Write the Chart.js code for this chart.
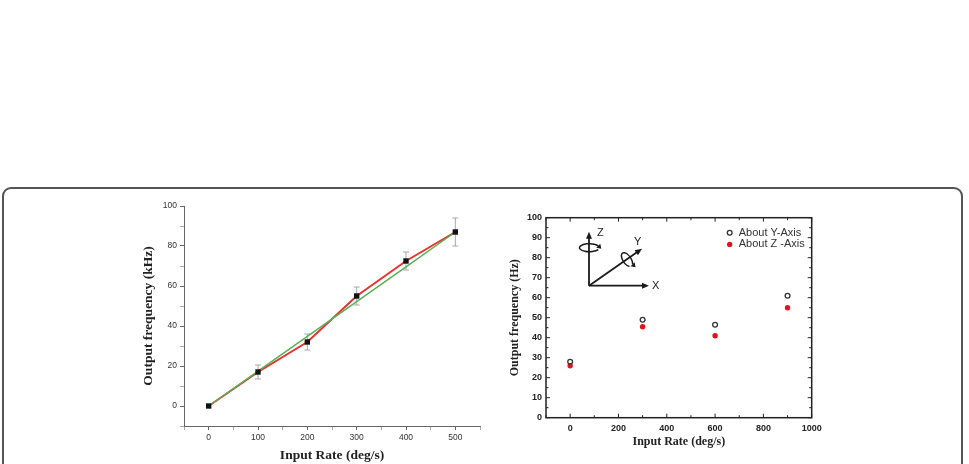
<!DOCTYPE html>
<html>
<head>
<meta charset="utf-8">
<script src="https://cdn.jsdelivr.net/npm/chart.js@4.4.1/dist/chart.umd.min.js"></script>
<style>
  html, body { margin: 0; padding: 0; background: #fff; width: 969px; height: 464px; overflow: hidden; }
  .frame { position: absolute; left: 2px; top: 187px; width: 961px; height: 300px; border: 2px solid #555; border-radius: 9px; box-sizing: border-box; }
  #leftChart { position: absolute; left: 130px; top: 195px; }
  #rightChart { position: absolute; left: 500px; top: 205px; }
</style>
</head>
<body>
<div class="frame"></div>
<canvas id="leftChart" width="370" height="269"></canvas>
<canvas id="rightChart" width="330" height="259"></canvas>
<script>
// left panel: rate vs output frequency (kHz)
const rateLeft = [0, 100, 200, 300, 400, 500];
const freqLeft = [0, 17, 32, 55, 72.5, 87];
const errLeft = [0, 3.5, 4, 4.5, 4.5, 7];
const fitLeft = [0, 17.4, 34.8, 52.2, 69.6, 87];
const leftXTicks = [0, 100, 200, 300, 400, 500];
const leftYTicks = [0, 20, 40, 60, 80, 100];

// right panel: rotation about Y / Z axis (Hz)
const rateRight = [0, 300, 600, 900];
const aboutY = [28, 49, 46.5, 61];
const aboutZ = [26, 45.5, 41, 55];
const rightXTicks = [0, 200, 400, 600, 800, 1000];
const rightYTicks = [0, 10, 20, 30, 40, 50, 60, 70, 80, 90, 100];

const serifBold = (size) => ({ family: '"Liberation Serif", "Times New Roman", serif', size: size, weight: 'bold' });
const toPoints = (xs, ys) => xs.map((x, i) => ({ x: x, y: ys[i] }));

// error bars drawn under the markers
const errorBars = {
    id: 'errorBars',
    beforeDatasetsDraw(chart) {
        const { ctx, scales: { x, y } } = chart;
        ctx.save();
        ctx.strokeStyle = '#a9a9a9';
        ctx.lineWidth = 1;
        rateLeft.forEach((r, i) => {
            if (!errLeft[i]) return;
            const px = x.getPixelForValue(r);
            const top = y.getPixelForValue(freqLeft[i] + errLeft[i]);
            const bot = y.getPixelForValue(freqLeft[i] - errLeft[i]);
            ctx.beginPath();
            ctx.moveTo(px, top); ctx.lineTo(px, bot);
            ctx.moveTo(px - 3, top); ctx.lineTo(px + 3, top);
            ctx.moveTo(px - 3, bot); ctx.lineTo(px + 3, bot);
            ctx.stroke();
        });
        ctx.restore();
    }
};

new Chart(document.getElementById('leftChart'), {
    type: 'line',
    data: {
        datasets: [{
            data: toPoints(rateLeft, freqLeft),
            borderColor: '#e8322c',
            borderWidth: 2,
            pointRadius: 0,
            order: 3
        }, {
            data: toPoints(rateLeft, fitLeft),
            borderColor: '#58b15a',
            borderWidth: 1.5,
            pointRadius: 0,
            order: 2
        }, {
            data: toPoints(rateLeft, freqLeft),
            showLine: false,
            pointStyle: 'rect',
            pointRadius: 3.8,
            pointBackgroundColor: '#111',
            pointBorderColor: '#111',
            pointBorderWidth: 0,
            order: 1
        }]
    },
    options: {
        responsive: false,
        animation: false,
        layout: { padding: { left: 0, top: 11, right: 20, bottom: 0 } },
        plugins: { legend: { display: false }, tooltip: { enabled: false } },
        scales: {
            x: {
                type: 'linear',
                min: -50, max: 550,
                afterFit: (s) => { s.height = 38; },
                border: { display: true, color: '#666', width: 1 },
                grid: { drawOnChartArea: false, drawTicks: true, tickLength: 4,
                        tickColor: (c) => leftXTicks.includes(c.tick.value) ? '#666' : '#aaa' },
                ticks: {
                    stepSize: 50, autoSkip: false, maxRotation: 0, padding: 3,
                    color: '#333', font: { family: '"Liberation Sans", Arial, sans-serif', size: 8.5 },
                    callback: (v) => leftXTicks.includes(v) ? v : ''
                },
                title: { display: true, text: 'Input Rate (deg/s)', color: '#222', font: serifBold(13.5), padding: { top: 0, bottom: 0 } }
            },
            y: {
                min: -10, max: 100,
                afterFit: (s) => { s.width = 54; },
                border: { display: true, color: '#666', width: 1 },
                grid: { drawOnChartArea: false, drawTicks: true, tickLength: 4,
                        tickColor: (c) => leftYTicks.includes(c.tick.value) ? '#666' : '#aaa' },
                ticks: {
                    stepSize: 10, autoSkip: false, padding: 3,
                    color: '#333', font: { family: '"Liberation Sans", Arial, sans-serif', size: 8.5 },
                    callback: (v) => leftYTicks.includes(v) ? v : ''
                },
                title: { display: true, text: 'Output frequency (kHz)', color: '#222', font: serifBold(13.5), padding: { top: 10, bottom: 0 } }
            }
        }
    },
    plugins: [errorBars]
});

// closed frame with inward ticks on all four sides
const boxTicks = {
    id: 'boxTicks',
    afterDraw(chart) {
        const { ctx, chartArea: a, scales: { x, y } } = chart;
        ctx.save();
        ctx.strokeStyle = '#222';
        ctx.lineWidth = 1.5;
        ctx.strokeRect(a.left, a.top, a.right - a.left, a.bottom - a.top);
        ctx.lineWidth = 1;
        ctx.beginPath();
        x.ticks.forEach(t => {
            const px = x.getPixelForValue(t.value);
            const len = rightXTicks.includes(t.value) ? 4 : 2.5;
            ctx.moveTo(px, a.bottom); ctx.lineTo(px, a.bottom - len);
            ctx.moveTo(px, a.top); ctx.lineTo(px, a.top + len);
        });
        y.ticks.forEach(t => {
            const py = y.getPixelForValue(t.value);
            const len = rightYTicks.includes(t.value) ? 4 : 2.5;
            ctx.moveTo(a.left, py); ctx.lineTo(a.left + len, py);
            ctx.moveTo(a.right, py); ctx.lineTo(a.right - len, py);
        });
        ctx.stroke();
        ctx.restore();
    }
};

function arrow(ctx, x1, y1, x2, y2) {
    const ang = Math.atan2(y2 - y1, x2 - x1);
    ctx.beginPath();
    ctx.moveTo(x1, y1);
    ctx.lineTo(x2 - 4 * Math.cos(ang), y2 - 4 * Math.sin(ang));
    ctx.stroke();
    ctx.beginPath();
    ctx.moveTo(x2, y2);
    ctx.lineTo(x2 - 7 * Math.cos(ang) + 3 * Math.sin(ang), y2 - 7 * Math.sin(ang) - 3 * Math.cos(ang));
    ctx.lineTo(x2 - 7 * Math.cos(ang) - 3 * Math.sin(ang), y2 - 7 * Math.sin(ang) + 3 * Math.cos(ang));
    ctx.closePath();
    ctx.fill();
}

function spin(ctx, cx, cy, rx, ry, rot) {
    const end = 2 * Math.PI - 0.5;
    ctx.beginPath();
    ctx.ellipse(cx, cy, rx, ry, rot, 0.5, end);
    ctx.stroke();
    // small head at the open end
    const ex = cx + rx * Math.cos(end) * Math.cos(rot) - ry * Math.sin(end) * Math.sin(rot);
    const ey = cy + rx * Math.cos(end) * Math.sin(rot) + ry * Math.sin(end) * Math.cos(rot);
    ctx.beginPath();
    ctx.moveTo(ex + 3, ey + 3);
    ctx.lineTo(ex - 2, ey + 2);
    ctx.lineTo(ex + 2, ey - 2);
    ctx.closePath();
    ctx.fill();
}

// axis sketch and legend inside the plot
const insetSketch = {
    id: 'insetSketch',
    afterDraw(chart) {
        const { ctx, chartArea: a } = chart;
        const ox = a.left + 43, oy = a.top + 68;
        ctx.save();
        ctx.strokeStyle = '#1a1a1a';
        ctx.fillStyle = '#1a1a1a';
        ctx.lineWidth = 1.8;
        arrow(ctx, ox, oy, ox, a.top + 14);
        arrow(ctx, ox, oy, a.left + 103, oy);
        arrow(ctx, ox, oy, a.left + 96, a.top + 31);
        ctx.lineWidth = 1.5;
        spin(ctx, ox + 0.5, a.top + 30, 10, 4, 0);
        spin(ctx, a.left + 81, a.top + 42, 8, 4, 0.96);
        ctx.font = '11px "Liberation Sans", Arial, sans-serif';
        ctx.textBaseline = 'middle';
        ctx.fillText('Z', a.left + 51, a.top + 15);
        ctx.fillText('Y', a.left + 88, a.top + 24);
        ctx.fillText('X', a.left + 106, oy);

        chart.data.datasets.forEach((ds, i) => {
            const cx = a.right - 82, cy = a.top + 15 + i * 11.7;
            ctx.beginPath();
            ctx.arc(cx, cy, ds.pointRadius, 0, Math.PI * 2);
            if (ds.pointBorderWidth > 0) {
                ctx.strokeStyle = ds.pointBorderColor;
                ctx.lineWidth = ds.pointBorderWidth;
                ctx.stroke();
            } else {
                ctx.fillStyle = ds.pointBackgroundColor;
                ctx.fill();
            }
            ctx.fillStyle = '#333';
            ctx.fillText(ds.label, cx + 9, cy);
        });
        ctx.restore();
    }
};

new Chart(document.getElementById('rightChart'), {
    type: 'scatter',
    data: {
        datasets: [{
            label: 'About Y-Axis',
            data: toPoints(rateRight, aboutY),
            pointRadius: 2.4,
            pointBorderWidth: 1.3,
            pointBorderColor: '#333',
            pointBackgroundColor: 'rgba(0,0,0,0)'
        }, {
            label: 'About Z -Axis',
            data: toPoints(rateRight, aboutZ),
            pointRadius: 2.7,
            pointBorderWidth: 0,
            pointBorderColor: '#e0141b',
            pointBackgroundColor: '#e0141b'
        }]
    },
    options: {
        responsive: false,
        animation: false,
        layout: { padding: { left: 0, top: 12.7, right: 18.3, bottom: 0 } },
        plugins: { legend: { display: false }, tooltip: { enabled: false } },
        scales: {
            x: {
                type: 'linear',
                min: -100, max: 1000,
                afterFit: (s) => { s.height = 46.3; },
                border: { display: false },
                grid: { display: false, drawTicks: false },
                ticks: {
                    stepSize: 100, autoSkip: false, maxRotation: 0, padding: 5,
                    color: '#222', font: { family: '"Liberation Sans", Arial, sans-serif', size: 9, weight: 'bold' },
                    callback: (v) => rightXTicks.includes(v) ? v : ''
                },
                title: { display: true, text: 'Input Rate (deg/s)', color: '#222', font: serifBold(12), padding: { top: 0, bottom: 15 } }
            },
            y: {
                min: 0, max: 100,
                afterFit: (s) => { s.width = 46; },
                border: { display: false },
                grid: { display: false, drawTicks: false },
                ticks: {
                    stepSize: 5, autoSkip: false, padding: 4,
                    color: '#222', font: { family: '"Liberation Sans", Arial, sans-serif', size: 9, weight: 'bold' },
                    callback: (v) => rightYTicks.includes(v) ? v : ''
                },
                title: { display: true, text: 'Output frequency (Hz)', color: '#222', font: serifBold(12), padding: { top: 8, bottom: 0 } }
            }
        }
    },
    plugins: [boxTicks, insetSketch]
});
</script>
</body>
</html>
